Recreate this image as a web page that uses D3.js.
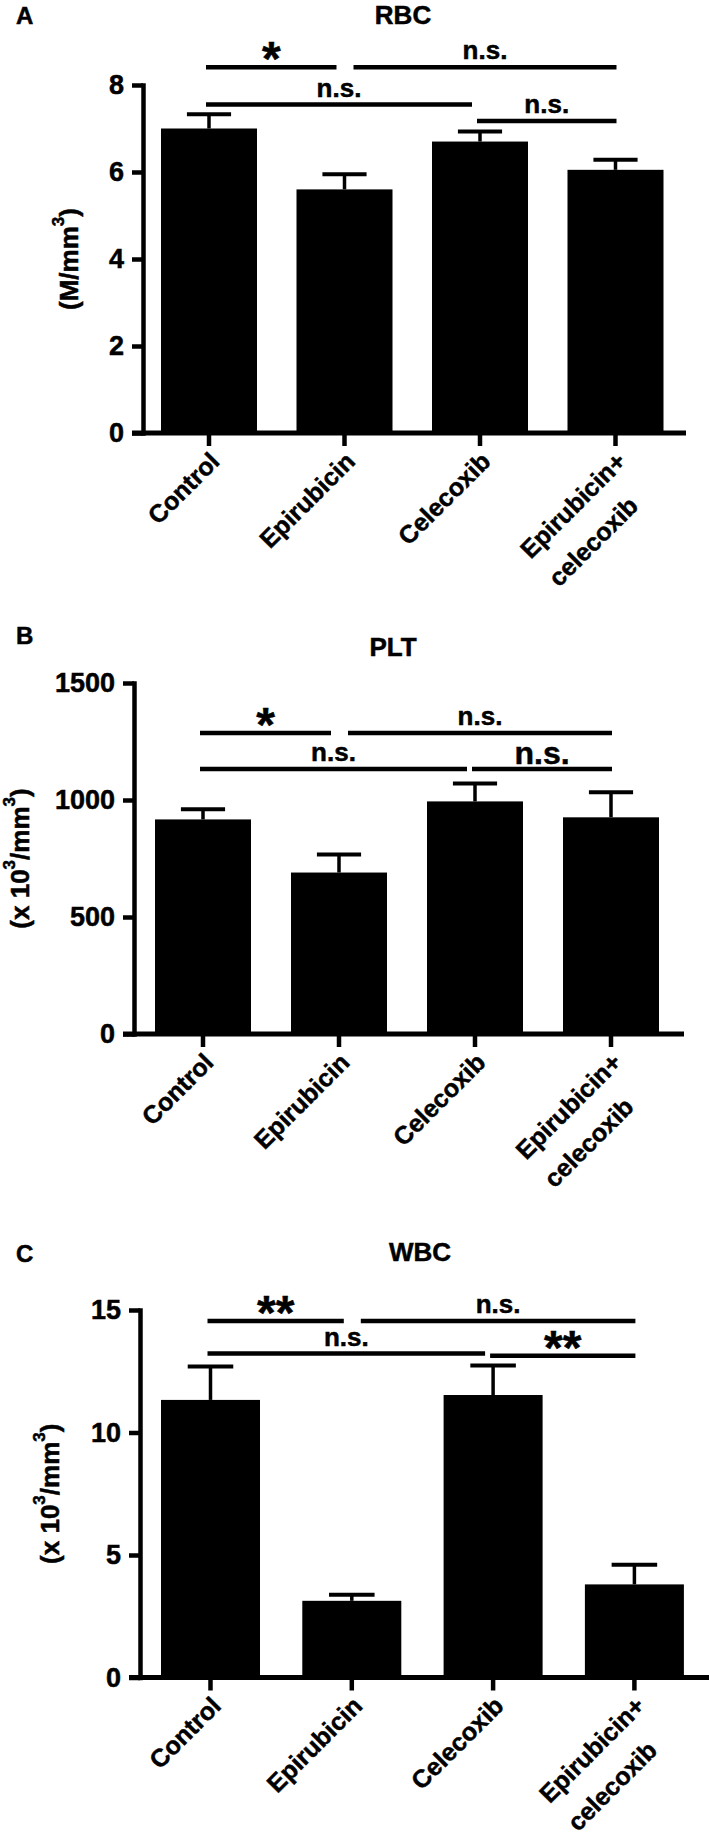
<!DOCTYPE html>
<html><head><meta charset="utf-8">
<script src="https://cdn.jsdelivr.net/npm/d3@7"></script>
<style>
html,body{margin:0;padding:0;background:#fff;}
svg{display:block;font-family:"Liberation Sans",Arial,Helvetica,sans-serif;font-weight:bold;}
svg text{stroke:#000;stroke-width:0.5px;}
</style></head><body>
<svg id="chart" width="709" height="1843"></svg>
<script>
// ---------- data ----------
const categories = ["Control", "Epirubicin", "Celecoxib", "Epirubicin+\ncelecoxib"];

const rbcMean = [7.0, 5.6, 6.7, 6.05];
const rbcSem  = [0.33, 0.35, 0.23, 0.23];
const rbcTicks = [0, 2, 4, 6, 8];
const rbcSig = [
  {from: 0, to: 1, level: 8.41, label: "*"},
  {from: 1, to: 3, level: 8.41, label: "n.s."},
  {from: 0, to: 2, level: 7.55, label: "n.s."},
  {from: 2, to: 3, level: 7.17, label: "n.s."}
];

const pltMean = [917, 690, 994, 926];
const pltSem  = [43, 77, 77, 107];
const pltTicks = [0, 500, 1000, 1500];
const pltSig = [
  {from: 0, to: 1, level: 1286, label: "*"},
  {from: 1, to: 3, level: 1286, label: "n.s."},
  {from: 0, to: 2, level: 1132, label: "n.s."},
  {from: 2, to: 3, level: 1132, label: "n.s."}
];

const wbcMean = [11.33, 3.13, 11.53, 3.8];
const wbcSem  = [1.36, 0.25, 1.2, 0.8];
const wbcTicks = [0, 5, 10, 15];
const wbcSig = [
  {from: 0, to: 1, level: 14.55, label: "**"},
  {from: 1, to: 3, level: 14.55, label: "n.s."},
  {from: 0, to: 2, level: 13.22, label: "n.s."},
  {from: 2, to: 3, level: 13.13, label: "**"}
];

// ---------- layout (positions / styles) ----------
const panels = [
  {letter: "A", title: "RBC", mean: rbcMean, sem: rbcSem, ticks: rbcTicks, domain: [0, 8], sig: rbcSig,
   ylabel: [["(M/mm", 0], ["3", 1], [")", 0]],
   axisX: 143, y0: 433, yTop: 85, bandStart: 161, step: 135.5, bw: 96, xEnd: 686,
   titleX: 403, titleY: 24, letterY: 24, ylabX: 69, bigSig: -1},
  {letter: "B", title: "PLT", mean: pltMean, sem: pltSem, ticks: pltTicks, domain: [0, 1500], sig: pltSig,
   ylabel: [["(x 10", 0], ["3", 1], ["/mm", 0], ["3", 1], [")", 0]],
   axisX: 134, y0: 1034, yTop: 683, bandStart: 155, step: 136, bw: 96, xEnd: 684,
   titleX: 393, titleY: 656, letterY: 644, ylabX: 20, bigSig: 3},
  {letter: "C", title: "WBC", mean: wbcMean, sem: wbcSem, ticks: wbcTicks, domain: [0, 15], sig: wbcSig,
   ylabel: [["(x 10", 0], ["3", 1], ["/mm", 0], ["3", 1], [")", 0]],
   axisX: 140, y0: 1677.5, yTop: 1310, bandStart: 161, step: 141.3, bw: 99, xEnd: 709,
   titleX: 420, titleY: 1261, letterY: 1262, ylabX: 50, bigSig: -1}
];

const AXIS_W = 4.5, TICK = 11;
const svg = d3.select("#chart");

panels.forEach(P => {
  const g = svg.append("g");
  const n = categories.length;
  const pIn = 1 - P.bw / P.step;
  const pOut = (P.bandStart - P.axisX) / P.step;
  const x = d3.scaleBand().domain(categories)
    .range([P.axisX, P.axisX + P.step * (n - pIn + 2 * pOut)])
    .paddingInner(pIn).paddingOuter(pOut);
  const y = d3.scaleLinear().domain(P.domain).range([P.y0, P.yTop]);
  const cx = c => x(c) + x.bandwidth() / 2;

  // panel letter & title
  g.append("text").attr("x", 16).attr("y", P.letterY).attr("font-size", 24).text(P.letter);
  g.append("text").attr("x", P.titleX).attr("y", P.titleY).attr("font-size", 26)
    .attr("text-anchor", "middle").text(P.title);

  // bars
  g.selectAll("rect.bar").data(categories).enter().append("rect")
    .attr("x", c => x(c)).attr("width", x.bandwidth())
    .attr("y", (c, i) => y(P.mean[i]))
    .attr("height", (c, i) => y(0) - y(P.mean[i]))
    .attr("fill", "#000");

  // error bars
  const capHalf = x.bandwidth() * 0.23;
  categories.forEach((c, i) => {
    const top = y(P.mean[i] + P.sem[i]);
    g.append("line").attr("x1", cx(c)).attr("x2", cx(c))
      .attr("y1", y(P.mean[i])).attr("y2", top)
      .attr("stroke", "#000").attr("stroke-width", 3.5);
    g.append("line").attr("x1", cx(c) - capHalf).attr("x2", cx(c) + capHalf)
      .attr("y1", top).attr("y2", top)
      .attr("stroke", "#000").attr("stroke-width", 4);
  });

  // y axis
  const ya = g.append("g").attr("transform", `translate(${P.axisX},0)`)
    .call(d3.axisLeft(y).tickValues(P.ticks).tickSize(TICK).tickSizeOuter(0)
      .tickPadding(8).tickFormat(d3.format("d")));
  ya.attr("font-family", null);
  ya.select(".domain").attr("stroke-width", AXIS_W).attr("stroke-linecap", "square");
  ya.selectAll(".tick line").attr("stroke-width", AXIS_W);
  ya.selectAll(".tick text").attr("font-size", 27).attr("fill", "#000");

  // x axis line
  g.append("line").attr("x1", P.axisX - TICK).attr("x2", P.xEnd)
    .attr("y1", P.y0).attr("y2", P.y0)
    .attr("stroke", "#000").attr("stroke-width", 5);
  const xa = g.append("g").attr("transform", `translate(0,${P.y0})`)
    .call(d3.axisBottom(x).tickSize(TICK + 2).tickFormat(""));
  xa.select(".domain").remove();
  xa.selectAll(".tick line").attr("stroke-width", AXIS_W);

  // category labels
  categories.forEach(c => {
    const lines = c.split("\n");
    const lg = g.append("g").attr("transform", `translate(${cx(c) + 12},${P.y0 + 30}) rotate(-45)`);
    const t1 = lg.append("text").attr("text-anchor", "end").attr("font-size", 25).text(lines[0]);
    if (lines.length > 1) {
      const w1 = t1.node().getComputedTextLength();
      lg.append("text").attr("text-anchor", "start").attr("x", -w1).attr("y", 40)
        .attr("font-size", 25).text(lines[1]);
    }
  });

  // y label
  const yl = g.append("text")
    .attr("transform", `translate(${P.ylabX},${(P.y0 + P.yTop) / 2}) rotate(-90)`)
    .attr("text-anchor", "middle").attr("dominant-baseline", "central").attr("font-size", 26);
  let shift = 0;
  P.ylabel.forEach(([s, sup]) => {
    const target = sup ? -11 : 0;
    yl.append("tspan").attr("dy", target - shift).attr("font-size", sup ? 17 : 26).text(s);
    shift = target;
  });

  // significance lines
  P.sig.forEach((s, k) => {
    const x1 = cx(categories[s.from]) + (s.from === 1 ? 9 : -3);
    const x2 = cx(categories[s.to]) + (s.to === n - 1 ? 1 : -8);
    const ly = y(s.level);
    g.append("line").attr("x1", x1).attr("x2", x2).attr("y1", ly).attr("y2", ly)
      .attr("stroke", "#000").attr("stroke-width", 4.5);
    const isStar = s.label.indexOf("*") >= 0;
    const big = k === P.bigSig;
    g.append("text").attr("x", (x1 + x2) / 2)
      .attr("y", isStar ? ly + 8 : ly - (big ? 5 : 8))
      .attr("text-anchor", "middle")
      .attr("font-size", isStar ? 48 : (big ? 32 : 26))
      .text(s.label);
  });
});
</script>
</body></html>
